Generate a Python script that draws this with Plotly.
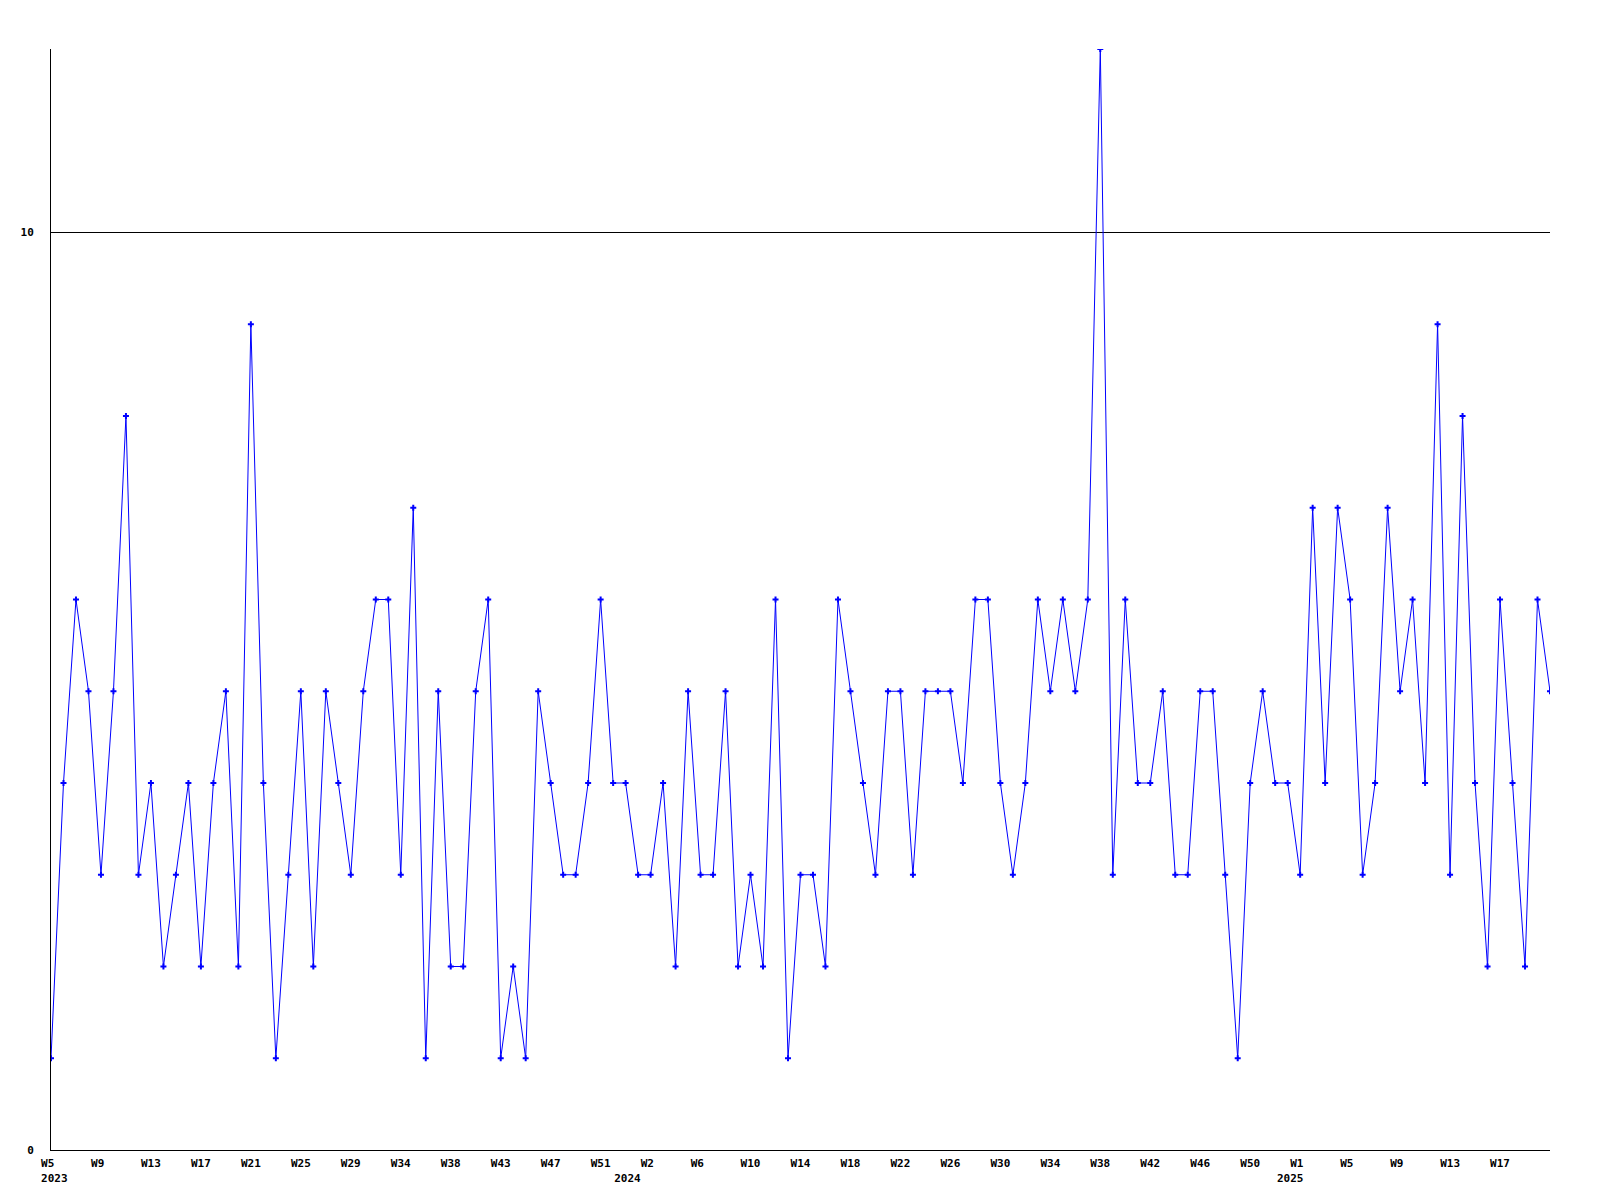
import plotly.graph_objects as go

values = [1, 4, 6, 5, 3, 5, 8, 3, 4, 2, 3, 4, 2, 4, 5, 2, 9, 4, 1, 3,
          5, 2, 5, 4, 3, 5, 6, 6, 3, 7, 1, 5, 2, 2, 5, 6, 1, 2, 1, 5,
          4, 3, 3, 4, 6, 4, 4, 3, 3, 4, 2, 5, 3, 3, 5, 2, 3, 2, 6, 1,
          3, 3, 2, 6, 5, 4, 3, 5, 5, 3, 5, 5, 5, 4, 6, 6, 4, 3, 4, 6,
          5, 6, 5, 6, 12, 3, 6, 4, 4, 5, 3, 3, 5, 5, 3, 1, 4, 5, 4, 4,
          3, 7, 4, 7, 6, 3, 4, 7, 5, 6, 4, 9, 3, 8, 4, 2, 6, 4, 2, 6, 5]

tick_labels = ["W5", "W9", "W13", "W17", "W21", "W25", "W29", "W34", "W38", "W43",
               "W47", "W51", "W2", "W6", "W10", "W14", "W18", "W22", "W26", "W30",
               "W34", "W38", "W42", "W46", "W50", "W1", "W5", "W9", "W13", "W17"]
year_labels = {0: "2023", 12: "2024", 25: "2025"}
# trailing padding (in character cells) used to mimic the original year label alignment
year_pad = {0: -1, 12: 7, 25: 3}

NB = "\u00a0"


def week_text(lab):
    return lab + NB * (3 - len(lab))


def year_text(i):
    pad = year_pad[i]
    if pad < 0:
        return NB * (-pad) + year_labels[i]
    return year_labels[i] + NB * pad


x = list(range(len(values)))
tickvals = [i * 4 for i in range(len(tick_labels))]
ticktext = [week_text(lab) + ("<br>" + year_text(i) if i in year_labels else "")
            for i, lab in enumerate(tick_labels)]

font = dict(family="DejaVu Sans Mono", size=11, color="#000000", weight="bold")

fig = go.Figure(go.Scatter(
    x=x, y=values, mode="lines+markers",
    line=dict(color="#0000ff", width=1),
    marker=dict(symbol="cross", size=5, color="#0000ff"),
))

fig.update_layout(
    width=1584, height=1184,
    margin=dict(l=43, r=42, t=41, b=42, autoexpand=False),
    plot_bgcolor="white", paper_bgcolor="white",
    showlegend=False,
    font=font,
)
fig.update_xaxes(
    range=[0, len(values) - 1], tickvals=tickvals, ticktext=ticktext,
    showgrid=False, zeroline=False, showline=True, linecolor="black", linewidth=1,
    ticks="", tickfont=font, tickangle=0, ticklabelstandoff=3, automargin=False,
)
fig.update_yaxes(
    range=[0, 12], tickvals=[0, 10], ticktext=["0", "10"],
    showgrid=True, gridcolor="black", gridwidth=1, zeroline=False,
    showline=True, linecolor="black", linewidth=1,
    ticks="", tickfont=font, ticklabelstandoff=14, automargin=False,
)

fig.write_html("out.html")
